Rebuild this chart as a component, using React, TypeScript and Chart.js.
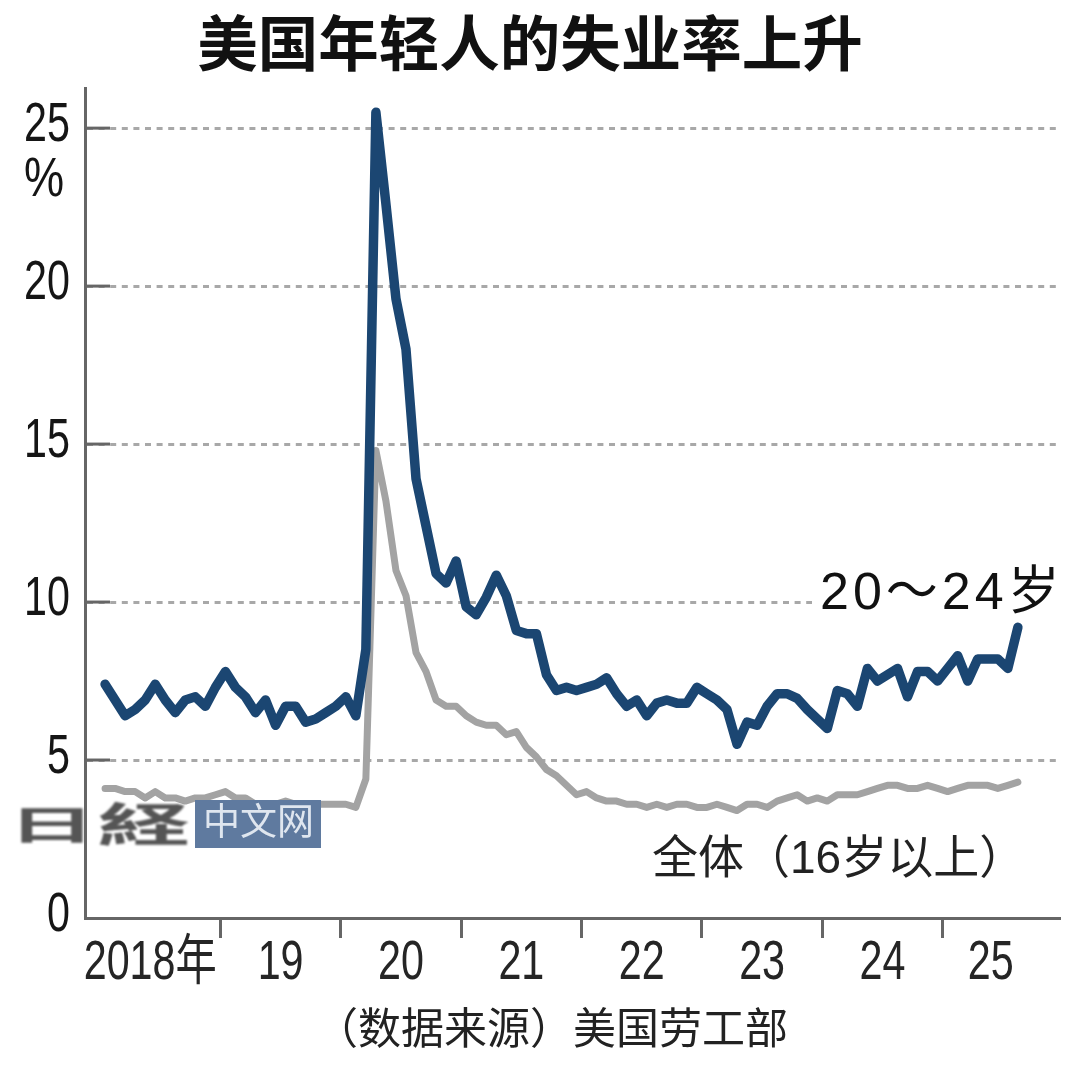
import { useEffect, useRef } from "react"
import { Chart, registerables } from "chart.js"

Chart.register(...registerables)

// monthly, Jan 2018 to Aug 2025
const youthRate = [
  7.4, 6.9, 6.4, 6.6, 6.9, 7.4, 6.9, 6.5, 6.9, 7.0, 6.7, 7.3,
  7.8, 7.3, 7.0, 6.5, 6.9, 6.1, 6.7, 6.7, 6.2, 6.3, 6.5, 6.7,
  7.0, 6.4, 8.5, 25.5, 22.6, 19.6, 18.0, 13.9, 12.4, 10.9, 10.6, 11.3,
  9.85, 9.6, 10.15, 10.85, 10.2, 9.1, 9.0, 9.0, 7.7, 7.2, 7.3, 7.2,
  7.3, 7.4, 7.6, 7.1, 6.7, 6.9, 6.4, 6.8, 6.9, 6.8, 6.8, 7.3,
  7.1, 6.9, 6.6, 5.5, 6.2, 6.1, 6.7, 7.1, 7.1, 6.95, 6.6, 6.3,
  6.0, 7.2, 7.1, 6.7, 7.9, 7.5, 7.7, 7.9, 7.0, 7.8, 7.8, 7.5,
  7.9, 8.3, 7.5, 8.2, 8.2, 8.2, 7.9, 9.2,
]
const allRate = [
  4.1, 4.1, 4.0, 4.0, 3.8, 4.0, 3.8, 3.8, 3.7, 3.8, 3.8, 3.9,
  4.0, 3.8, 3.8, 3.6, 3.6, 3.6, 3.7, 3.6, 3.5, 3.6, 3.6, 3.6,
  3.6, 3.5, 4.4, 14.8, 13.2, 11.0, 10.2, 8.4, 7.8, 6.9, 6.7, 6.7,
  6.4, 6.2, 6.1, 6.1, 5.8, 5.9, 5.4, 5.1, 4.7, 4.5, 4.2, 3.9,
  4.0, 3.8, 3.7, 3.7, 3.6, 3.6, 3.5, 3.6, 3.5, 3.6, 3.6, 3.5,
  3.5, 3.6, 3.5, 3.4, 3.6, 3.6, 3.5, 3.7, 3.8, 3.9, 3.7, 3.8,
  3.7, 3.9, 3.9, 3.9, 4.0, 4.1, 4.2, 4.2, 4.1, 4.1, 4.2, 4.1,
  4.0, 4.1, 4.2, 4.2, 4.2, 4.1, 4.2, 4.3,
]
const yTicks = [0, 5, 10, 15, 20, 25]
const yearBreaks = [11.5, 23.5, 35.5, 47.5, 59.5, 71.5, 83.5]
const yearLabels = ["2018年", "19", "20", "21", "22", "23", "24", "25"]
const yearLabelAt = [4.5, 17.5, 29.5, 41.5, 53.5, 65.5, 77.5, 88.3]

const sans = '"Liberation Sans", "Noto Sans CJK SC", sans-serif'
const axisColor = "#666666"

// no narrow face is installed, so squeeze the tick text by hand
function drawNarrow(ctx: CanvasRenderingContext2D, text: string, x: number, y: number, align: CanvasTextAlign, sx = 0.75) {
  ctx.save()
  ctx.translate(x, y)
  ctx.scale(sx, 1)
  ctx.font = `55px ${sans}`
  ctx.textAlign = align
  ctx.textBaseline = "middle"
  ctx.fillText(text, 0, 0)
  ctx.restore()
}

const overlay = {
  id: "overlay",
  afterDraw(chart: Chart) {
    const { ctx, scales } = chart
    const y = scales.y
    const x = scales.x
    const left = chart.chartArea.left
    ctx.save()

    // short solid start of each grid line
    ctx.strokeStyle = axisColor
    ctx.lineWidth = 3
    for (const v of yTicks.slice(1)) {
      ctx.beginPath()
      ctx.moveTo(left, y.getPixelForValue(v))
      ctx.lineTo(left + 25, y.getPixelForValue(v))
      ctx.stroke()
    }

    ctx.fillStyle = "#151515"
    y.ticks.forEach((t) => {
      drawNarrow(ctx, String(t.label), 70, y.getPixelForValue(t.value) - 2, "right")
    })
    drawNarrow(ctx, "%", 44, 181, "center", 0.82)

    ctx.fillStyle = "#252525"
    x.ticks.forEach((t) => {
      if (t.label) drawNarrow(ctx, String(t.label), x.getPixelForValue(t.value), 964, "center")
    })

    ctx.textBaseline = "middle"
    ctx.textAlign = "left"

    // series labels
    ctx.fillStyle = "#ffffff"
    ctx.fillRect(812, 565, 248, 47)
    ctx.fillStyle = "#111111"
    ctx.font = `52px ${sans}`
    ctx.letterSpacing = "4px"
    ctx.fillText("20～24岁", 820, 595)
    ctx.letterSpacing = "0px"
    ctx.fillStyle = "#222222"
    ctx.font = `46px ${sans}`
    ctx.fillText("全体（16岁以上）", 652, 860)

    // source
    ctx.font = `43px ${sans}`
    ctx.fillText("（数据来源）美国劳工部", 315, 1032)

    // watermark
    ctx.fillStyle = "#5f7a9f"
    ctx.fillRect(195, 800, 126, 48)
    ctx.fillStyle = "#dfe6ef"
    ctx.font = `37px ${sans}`
    ctx.fillText("中文网", 203, 825)
    ctx.filter = "blur(1.2px)"
    ctx.fillStyle = "#555555"
    ctx.font = `bold 46px ${sans}`
    ctx.save()
    ctx.translate(8, 828)
    ctx.scale(1.9, 0.85)
    ctx.fillText("日", 0, 0)
    ctx.restore()
    ctx.save()
    ctx.translate(98, 828)
    ctx.scale(2, 1)
    ctx.fillText("経", 0, 0)
    ctx.restore()
    ctx.filter = "none"

    ctx.restore()
  },
}

export default function App() {
  const canvasRef = useRef<HTMLCanvasElement>(null)

  useEffect(() => {
    if (!canvasRef.current) return
    const chart = new Chart(canvasRef.current, {
      type: "line",
      data: {
        labels: youthRate.map((_, i) => i),
        datasets: [
          {
            label: "全体（16岁以上）",
            data: allRate.map((v, i) => ({ x: i, y: v })),
            borderColor: "#a3a3a3",
            borderWidth: 7,
            pointRadius: 0,
            tension: 0,
            borderJoinStyle: "round",
            borderCapStyle: "round",
            order: 2,
          },
          {
            label: "20～24岁",
            data: youthRate.map((v, i) => ({ x: i, y: v })),
            borderColor: "#1b4672",
            borderWidth: 9.5,
            pointRadius: 0,
            tension: 0,
            borderJoinStyle: "round",
            borderCapStyle: "round",
            order: 1,
          },
        ],
      },
      options: {
        responsive: false,
        animation: false,
        layout: { padding: { left: 0, right: 20, top: 0, bottom: 0 } },
        plugins: {
          legend: { display: false },
          tooltip: { enabled: false },
          title: {
            display: true,
            text: "美国年轻人的失业率上升",
            color: "#111111",
            font: { family: '"Noto Sans CJK SC", sans-serif', size: 60.5, weight: "bold", lineHeight: 1 },
            padding: { top: 13, bottom: 14.5 },
          },
        },
        scales: {
          x: {
            type: "linear",
            min: -2,
            max: 95.2,
            afterFit: (scale) => {
              scale.height = 151
            },
            afterBuildTicks: (scale) => {
              scale.ticks = [...yearBreaks, ...yearLabelAt].map((value) => ({ value }))
            },
            border: { color: axisColor, width: 3 },
            grid: {
              drawOnChartArea: false,
              tickLength: 20,
              tickWidth: 3,
              tickColor: (ctx) => (yearBreaks.includes(ctx.tick?.value) ? axisColor : "rgba(0,0,0,0)"),
            },
            ticks: {
              display: false,
              autoSkip: false,
              callback: (value) => yearLabels[yearLabelAt.indexOf(Number(value))] ?? "",
            },
          },
          y: {
            min: 0,
            max: 26.27,
            afterFit: (scale) => {
              scale.width = 85
            },
            afterBuildTicks: (scale) => {
              scale.ticks = yTicks.map((value) => ({ value }))
            },
            border: { color: axisColor, width: 3, dash: [6, 5.6] },
            grid: {
              drawTicks: false,
              lineWidth: 3,
              color: (ctx) => (ctx.tick?.value === 0 ? "rgba(0,0,0,0)" : "#a8a8a8"),
            },
            ticks: {
              display: false,
              callback: (value) => String(value),
            },
          },
        },
      },
      plugins: [overlay],
    })
    return () => chart.destroy()
  }, [])

  return (
    <div style={{ position: "absolute", left: 0, top: 0, width: 1080, height: 1069, background: "#fff" }}>
      <canvas ref={canvasRef} width={1080} height={1069} style={{ display: "block", filter: "blur(0.6px)" }} />
    </div>
  )
}
